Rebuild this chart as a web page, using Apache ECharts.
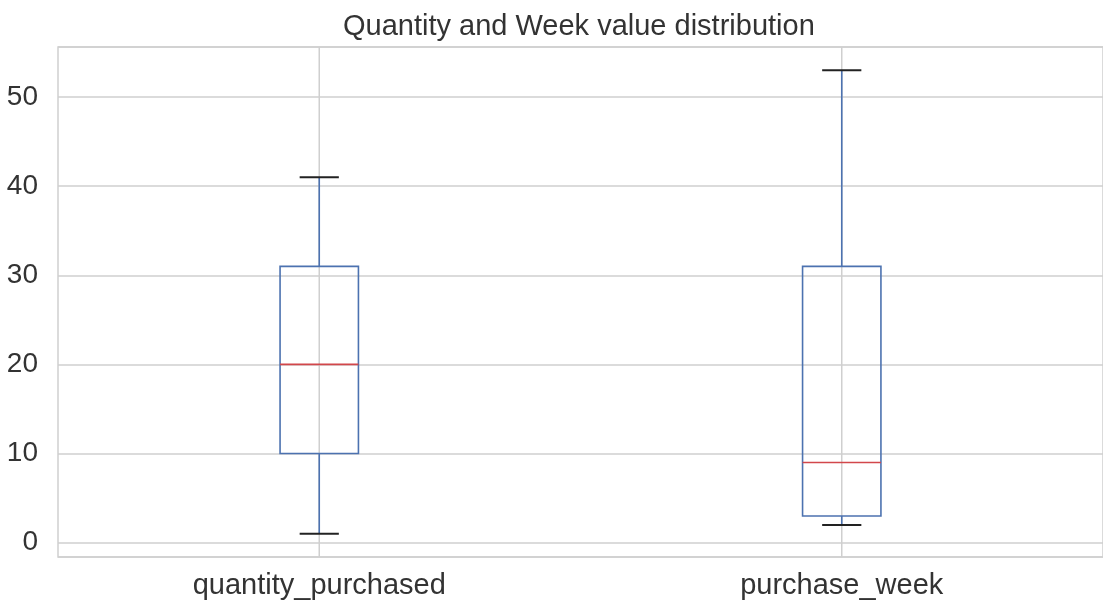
<!DOCTYPE html>
<html>
<head>
<meta charset="utf-8">
<script src="https://cdn.jsdelivr.net/npm/echarts@6/dist/echarts.min.js"></script>
<style>
html,body{margin:0;padding:0;background:#fff;}
#main{width:1103px;height:603px;}
</style>
</head>
<body>
<div id="main"></div>
<script>
const titleText = 'Quantity and Week value distribution';
const categories = ['quantity_purchased', 'purchase_week'];
const whiskerLow = [1, 2];
const q1 = [10, 3];
const median = [20, 9];
const q3 = [31, 31];
const whiskerHigh = [41, 53];

const lo = Math.min.apply(null, whiskerLow);
const hi = Math.max.apply(null, whiskerHigh);
const pad = (hi - lo) * 0.05;

const FONT = "'Liberation Sans', Arial, Helvetica, sans-serif";
const GRID = '#cfcfcf';
const BOX = '#4C72B0';
const MED = '#d2474b';

const data = categories.map((c, i) => [i, whiskerLow[i], q1[i], median[i], q3[i], whiskerHigh[i]]);

const chart = echarts.init(document.getElementById('main'), null, {renderer: 'canvas'});
chart.setOption({
  backgroundColor: '#fff',
  animation: false,
  title: {
    text: titleText,
    left: 343,
    top: 12,
    padding: 0,
    textStyle: {fontFamily: FONT, fontSize: 29, fontWeight: 'normal', color: '#333', lineHeight: 30}
  },
  grid: {left: 58, top: 47, width: 1045, height: 510, show: true, borderColor: GRID, borderWidth: 1.5, backgroundColor: '#fff'},
  xAxis: {
    type: 'category',
    data: categories,
    boundaryGap: true,
    axisLine: {show: false},
    axisTick: {show: false},
    splitLine: {show: false},
    axisLabel: {fontFamily: FONT, fontSize: 29, color: '#333', margin: 14}
  },
  yAxis: {
    type: 'value',
    min: +(lo - pad).toFixed(2),
    max: +(hi + pad).toFixed(2),
    splitNumber: 5,
    axisLine: {show: false},
    axisTick: {show: false},
    splitLine: {show: true, lineStyle: {color: GRID, width: 1.5}},
    axisLabel: {
      fontFamily: FONT, fontSize: 28, color: '#333', margin: 20,
      showMinLabel: false, showMaxLabel: false,
      formatter: v => (Math.abs(v % 10) < 1e-9 ? String(v) : '')
    }
  },
  series: [{
    type: 'custom',
    data: data,
    encode: {x: 0, y: [1, 2, 3, 4, 5]},
    renderItem: function (params, api) {
      const cs = params.coordSys;
      const xi = api.value(0);
      const band = api.size([1, 0])[0];
      const boxW = band * 0.15;
      const capW = boxW * 0.5;
      const pLow = api.coord([xi, api.value(1)]);
      const pQ1 = api.coord([xi, api.value(2)]);
      const pMed = api.coord([xi, api.value(3)]);
      const pQ3 = api.coord([xi, api.value(4)]);
      const pHigh = api.coord([xi, api.value(5)]);
      const cx = pMed[0];
      const boxStyle = {stroke: BOX, lineWidth: 1.6, fill: null};
      return {
        type: 'group',
        children: [
          {type: 'line', shape: {x1: cx, y1: cs.y, x2: cx, y2: cs.y + cs.height}, style: {stroke: GRID, lineWidth: 1.5}},
          {type: 'line', shape: {x1: cx, y1: pQ1[1], x2: cx, y2: pLow[1]}, style: boxStyle},
          {type: 'line', shape: {x1: cx, y1: pQ3[1], x2: cx, y2: pHigh[1]}, style: boxStyle},
          {type: 'rect', shape: {x: cx - boxW / 2, y: pQ3[1], width: boxW, height: pQ1[1] - pQ3[1]}, style: boxStyle},
          {type: 'line', shape: {x1: cx - boxW / 2, y1: pMed[1], x2: cx + boxW / 2, y2: pMed[1]}, style: {stroke: MED, lineWidth: 1.6}},
          {type: 'line', shape: {x1: cx - capW / 2, y1: pLow[1], x2: cx + capW / 2, y2: pLow[1]}, style: {stroke: '#222', lineWidth: 2}},
          {type: 'line', shape: {x1: cx - capW / 2, y1: pHigh[1], x2: cx + capW / 2, y2: pHigh[1]}, style: {stroke: '#222', lineWidth: 2}}
        ]
      };
    }
  }]
});
</script>
</body>
</html>
